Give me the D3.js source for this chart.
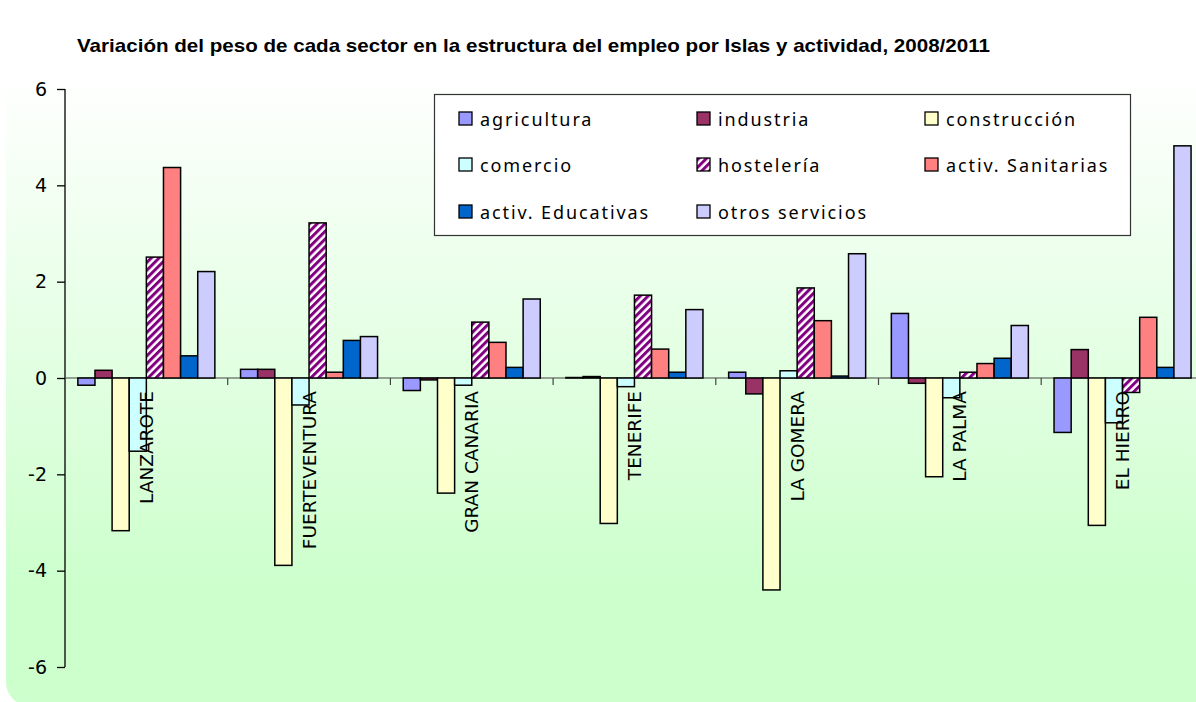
<!DOCTYPE html>
<html>
<head>
<meta charset="utf-8">
<title>Variación del peso de cada sector</title>
<script src="https://cdnjs.cloudflare.com/ajax/libs/d3/7.8.5/d3.min.js"></script>
<style>
  body { margin: 0; background: #ffffff; }
  svg { display: block; }
</style>
</head>
<body>
<div id="chart"></div>
<script>
// islands (categories)
var islas = ["LANZAROTE", "FUERTEVENTURA", "GRAN CANARIA", "TENERIFE", "LA GOMERA", "LA PALMA", "EL HIERRO"];

// sectors (series)
var sectores = ["agricultura", "industria", "construcción", "comercio", "hostelería",
                "activ. Sanitarias", "activ. Educativas", "otros servicios"];

// values per sector, one per island
var agricultura  = [-0.15, 0.18, -0.26, 0.01, 0.12, 1.34, -1.13];
var industria    = [0.16, 0.18, -0.04, 0.03, -0.33, -0.11, 0.59];
var construccion = [-3.17, -3.89, -2.39, -3.02, -4.40, -2.05, -3.06];
var comercio     = [-1.52, -0.56, -0.15, -0.18, 0.15, -0.41, -0.93];
var hosteleria   = [2.51, 3.22, 1.16, 1.72, 1.87, 0.12, -0.30];
var sanitarias   = [4.37, 0.12, 0.74, 0.60, 1.19, 0.30, 1.26];
var educativas   = [0.46, 0.78, 0.22, 0.12, 0.04, 0.41, 0.22];
var otros        = [2.21, 0.86, 1.64, 1.42, 2.58, 1.09, 4.82];

var yTicks = [-6, -4, -2, 0, 2, 4, 6];

var valores = [agricultura, industria, construccion, comercio, hosteleria, sanitarias, educativas, otros];
var colores = ["#9999ff", "#993366", "#ffffcc", "#ccffff", "url(#rayas)", "#ff8080", "#0066cc", "#ccccff"];

var w = 1196, h = 702;

var svg = d3.select("#chart")
            .append("svg")
            .attr("width", w)
            .attr("height", h);

var defs = svg.append("defs");

var grad = defs.append("linearGradient")
               .attr("id", "fondo")
               .attr("x1", 0).attr("y1", 0)
               .attr("x2", 0).attr("y2", 1);
grad.append("stop").attr("offset", "0%").attr("stop-color", "#ffffff");
grad.append("stop").attr("offset", "82%").attr("stop-color", "#ccffcc");
grad.append("stop").attr("offset", "100%").attr("stop-color", "#ccffcc");

var pat = defs.append("pattern")
              .attr("id", "rayas")
              .attr("patternUnits", "userSpaceOnUse")
              .attr("width", 5.5)
              .attr("height", 5.5)
              .attr("patternTransform", "rotate(45)");
pat.append("rect").attr("width", 5.5).attr("height", 5.5).attr("fill", "#ffffff");
pat.append("rect").attr("width", 3).attr("height", 5.5).attr("fill", "#800080");

// chart area background (rounded corner shows at bottom left)
svg.append("rect")
   .attr("x", 6)
   .attr("y", 72)
   .attr("width", 1230)
   .attr("height", 634)
   .attr("rx", 24)
   .attr("fill", "url(#fondo)");

// title
svg.append("text")
   .attr("x", 77)
   .attr("y", 52)
   .attr("font-family", "Liberation Sans, Arial, sans-serif")
   .attr("font-weight", "bold")
   .attr("font-size", "18.5px")
   .attr("textLength", 913)
   .attr("lengthAdjust", "spacingAndGlyphs")
   .attr("fill", "#000")
   .text("Variación del peso de cada sector en la estructura del empleo por Islas y actividad, 2008/2011");

// scales
var left = 65, groupW = 162.7;

var x0 = d3.scaleBand()
           .domain(islas)
           .range([left, left + groupW * islas.length]);

var x1 = d3.scaleBand()
           .domain(sectores)
           .range([groupW * 0.75 / 9.5, groupW * 8.75 / 9.5]);

var y = d3.scaleLinear()
          .domain([-6, 6])
          .range([667, 89]);

// y axis
var yAxis = svg.append("g")
               .attr("transform", "translate(" + left + ",0)")
               .call(d3.axisLeft(y).tickValues(yTicks).tickSize(8).tickPadding(10).tickFormat((d) => String(d)));
yAxis.select(".domain").attr("stroke", "#000").attr("d", "M0," + y(6) + "V" + y(-6))
     .attr("stroke-width", 1.3);
yAxis.selectAll(".tick line").attr("stroke", "#000").attr("stroke-width", 1.3);
yAxis.selectAll(".tick text")
     .attr("font-family", "DejaVu Sans, sans-serif")
     .attr("font-size", "19px")
     .attr("fill", "#000");

// x axis line and group ticks
svg.append("line")
   .attr("x1", left)
   .attr("x2", w)
   .attr("y1", y(0))
   .attr("y2", y(0))
   .attr("stroke", "#444")
   .attr("stroke-width", 1.2);

svg.selectAll(".gtick")
   .data(islas.slice(1))
   .enter()
   .append("line")
   .attr("class", "gtick")
   .attr("x1", (d) => x0(d))
   .attr("x2", (d) => x0(d))
   .attr("y1", y(0))
   .attr("y2", y(0) + 7)
   .attr("stroke", "#444")
   .attr("stroke-width", 1.2);

// bars
var grupos = svg.selectAll(".grupo")
                .data(islas)
                .enter()
                .append("g")
                .attr("class", "grupo")
                .attr("transform", (d) => "translate(" + x0(d) + ",0)");

grupos.selectAll("rect")
      .data((d, i) => sectores.map((s, j) => ({ sector: s, v: valores[j][i], c: colores[j] })))
      .enter()
      .append("rect")
      .attr("x", (d) => x1(d.sector))
      .attr("width", x1.bandwidth())
      .attr("y", (d) => y(Math.max(0, d.v)))
      .attr("height", (d) => Math.abs(y(d.v) - y(0)))
      .attr("fill", (d) => d.c)
      .attr("stroke", "#000")
      .attr("stroke-width", 1.5);

// island labels
svg.selectAll(".isla")
   .data(islas)
   .enter()
   .append("text")
   .attr("class", "isla")
   .attr("transform", (d) => "translate(" + (x0(d) + x0.bandwidth() / 2) + ",391) rotate(-90)")
   .attr("text-anchor", "end")
   .attr("dominant-baseline", "central")
   .attr("font-family", "DejaVu Sans, sans-serif")
   .attr("font-size", "18.5px")
   .attr("fill", "#000")
   .text((d) => d);

// legend
svg.append("rect")
   .attr("x", 434.5)
   .attr("y", 94.5)
   .attr("width", 696)
   .attr("height", 141)
   .attr("fill", "#ffffff")
   .attr("stroke", "#333")
   .attr("stroke-width", 1.2);

var colX = [459, 697, 925];
var rowY = [112, 158, 205];

var ley = svg.selectAll(".ley")
             .data(sectores)
             .enter()
             .append("g")
             .attr("class", "ley")
             .attr("transform", (d, i) => "translate(" + colX[i % 3] + "," + rowY[Math.floor(i / 3)] + ")");

ley.append("rect")
   .attr("width", 13)
   .attr("height", 13)
   .attr("fill", (d, i) => colores[i])
   .attr("stroke", "#000")
   .attr("stroke-width", 1.3);

ley.append("text")
   .attr("x", 21)
   .attr("y", 14)
   .attr("font-family", "Noto Sans, sans-serif")
   .attr("font-size", "18px")
   .attr("letter-spacing", "1.9px")
   .attr("fill", "#000")
   .text((d) => d);
</script>
</body>
</html>
